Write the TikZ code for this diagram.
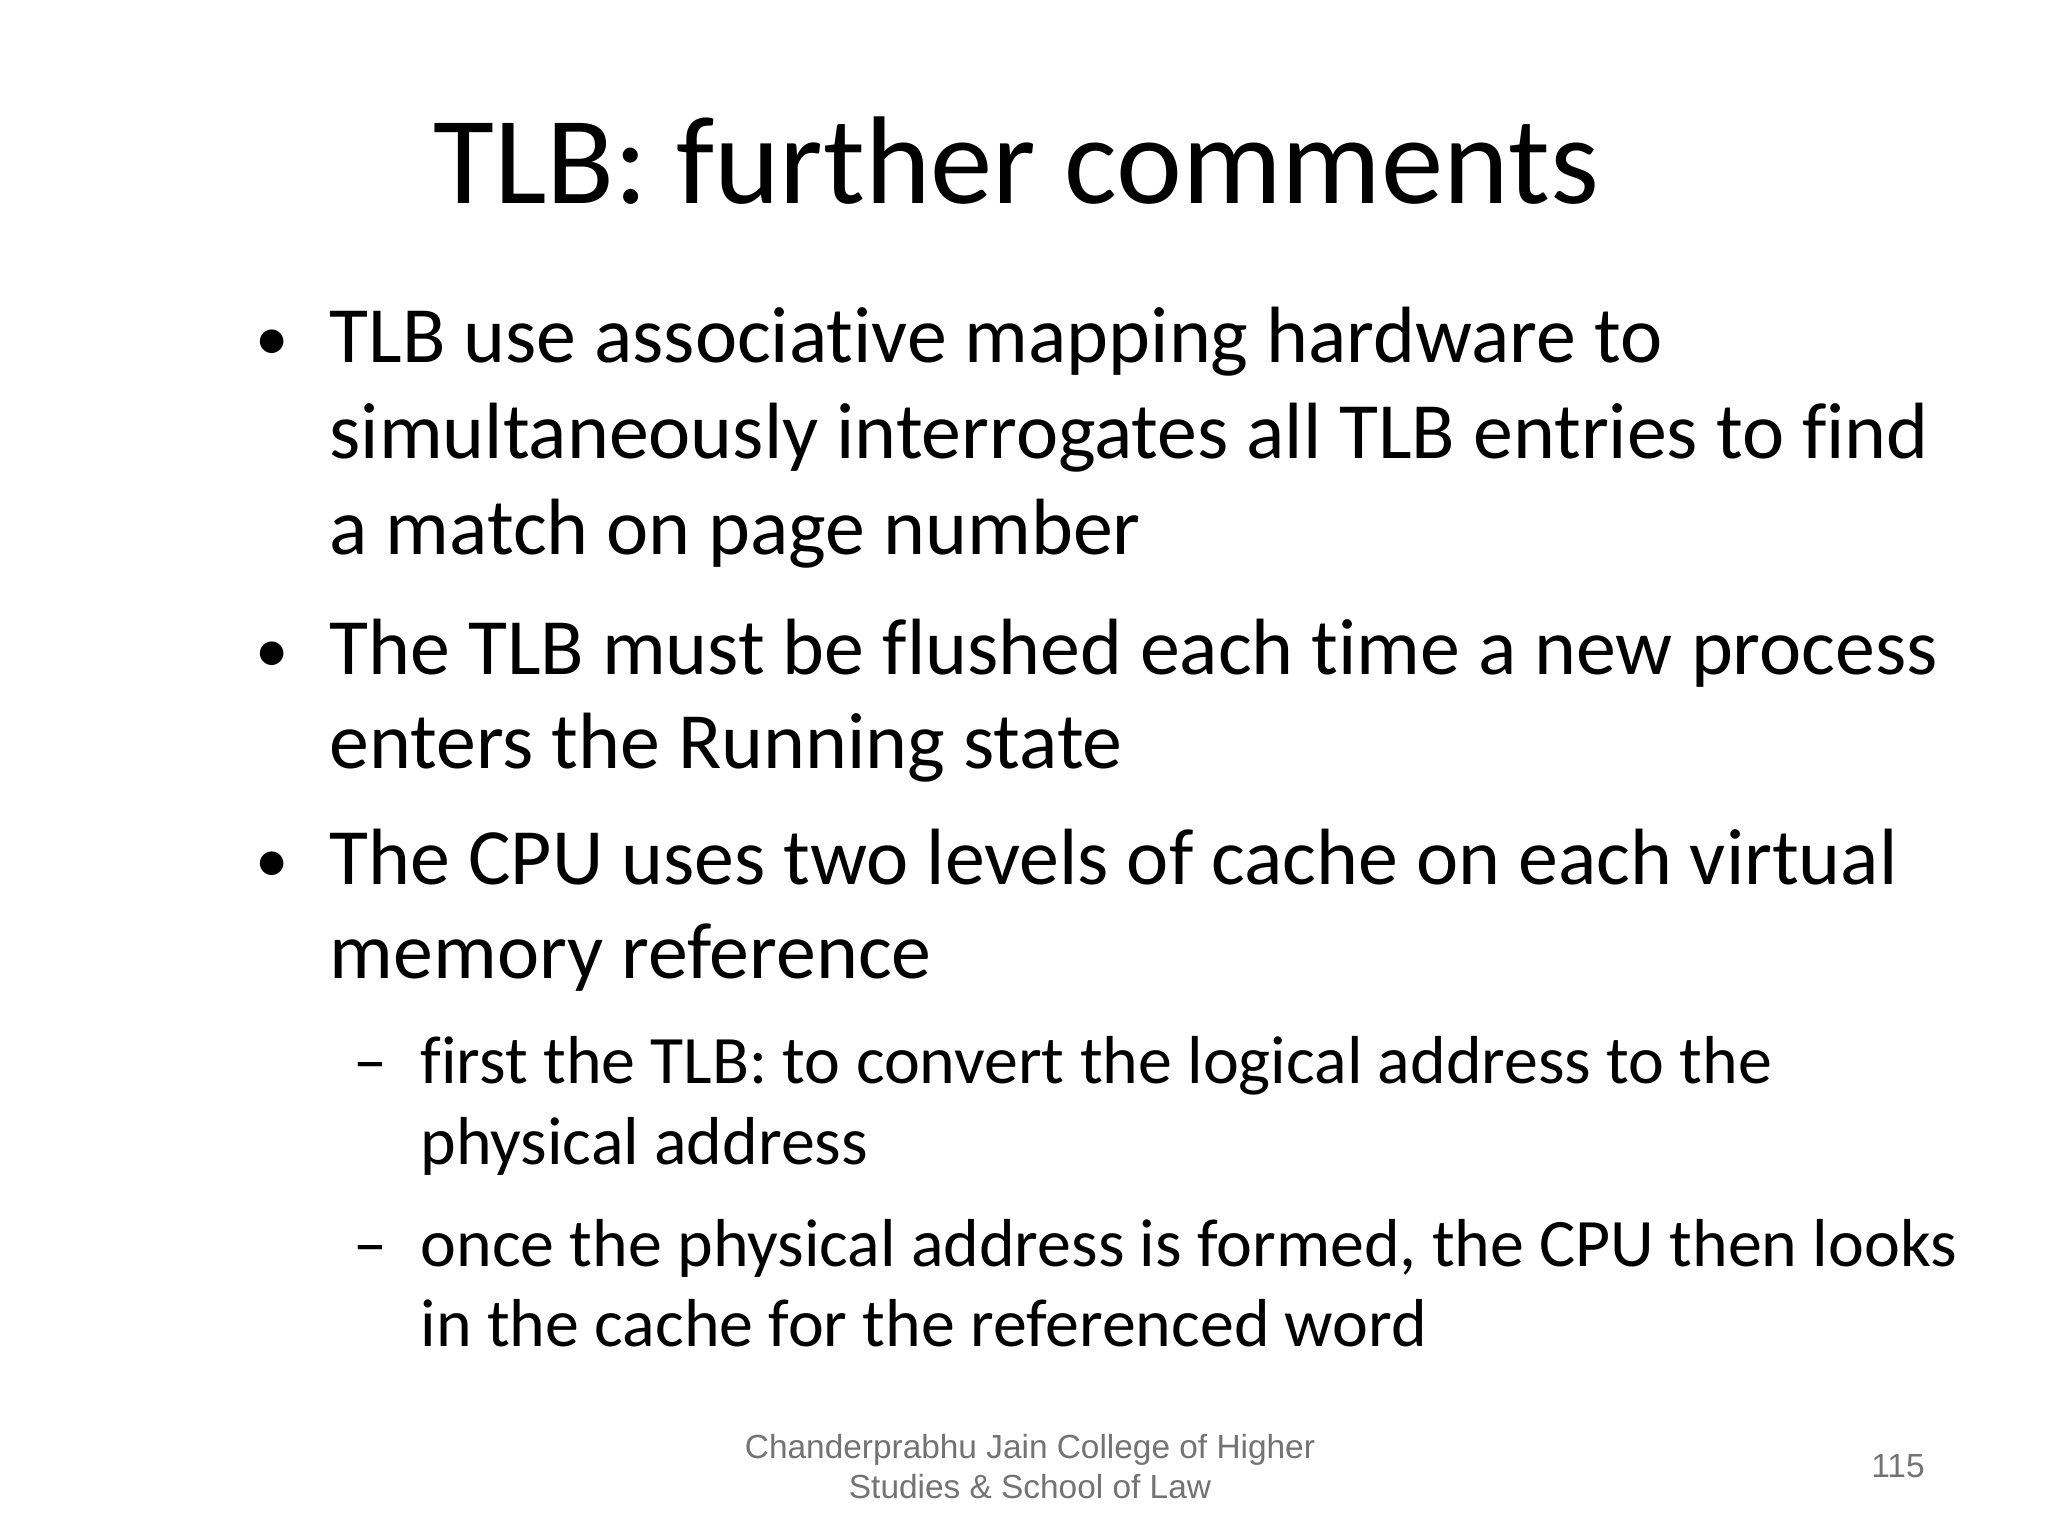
\documentclass[tikz,border=0pt]{standalone}
\usepackage{fontspec}
\setmainfont[Ligatures={NoCommon}]{Carlito}
\newfontfamily\footfont{Liberation Sans}
\begin{document}
\begin{tikzpicture}[x=0.01cm,y=-0.01cm,
  body/.style={anchor=base west,inner sep=0pt,font=\fontsize{22.7}{27}\selectfont},
  dot/.style={anchor=base west,inner sep=0pt,font=\fontsize{19}{27}\selectfont},
  sub/.style={anchor=base west,inner sep=0pt,font=\fontsize{19.3}{24}\selectfont},
  foot/.style={inner sep=0pt,text=black!55,font=\footfont\fontsize{9.5}{11.5}\selectfont}]
\useasboundingbox[fill=white] (0,0) rectangle (2048,1536);
\node[anchor=base,inner sep=0pt,font=\fontsize{35.5}{44}\selectfont] (title) at (1016,203) {TLB: further comments};
\node[dot] (b1) at (255,360) {•};
\node[body] (l1a) at (329,362) {TLB use associative mapping hardware to};
\node[body] (l1b) at (329,458) {simultaneously interrogates all TLB entries to find};
\node[body] (l1c) at (329,554) {a match on page number};
\node[dot] (b2) at (255,672) {•};
\node[body] (l2a) at (329,674) {The TLB must be flushed each time a new process};
\node[body] (l2b) at (329,768) {enters the Running state};
\node[dot] (b3) at (255,882) {•};
\node[body] (l3a) at (329,884) {The CPU uses two levels of cache on each virtual};
\node[body] (l3b) at (329,978) {memory reference};
\node[sub] (d1) at (353,1083) {–};
\node[sub] (s1a) at (420,1083) {first the TLB: to convert the logical address to the};
\node[sub] (s1b) at (420,1164) {physical address};
\node[sub] (d2) at (353,1266) {–};
\node[sub] (s2a) at (420,1266) {once the physical address is formed, the CPU then looks};
\node[sub] (s2b) at (420,1346) {in the cache for the referenced word};
\node[foot,anchor=base] (f1) at (1030,1458) {Chanderprabhu Jain College of Higher};
\node[foot,anchor=base] (f2) at (1030,1498) {Studies \& School of Law};
\node[foot,anchor=base] (pg) at (1898,1477) {115};
\end{tikzpicture}
\end{document}
